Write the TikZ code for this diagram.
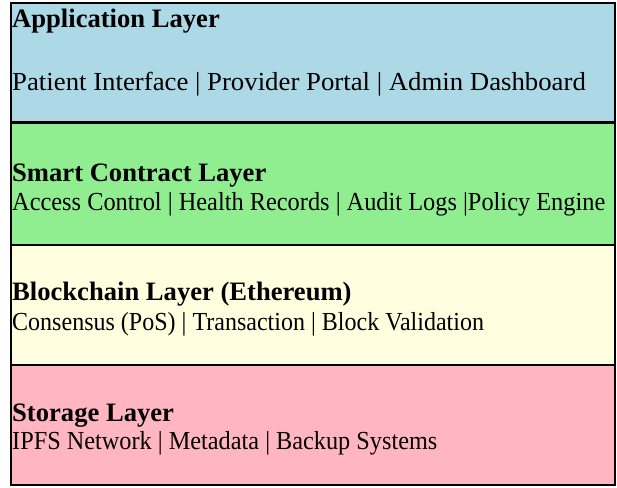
\documentclass[tikz,border=0pt]{standalone}
\usepackage{fontspec}
\setmainfont{Liberation Serif}
\usepackage{graphicx}
\definecolor{appblue}{HTML}{ADD8E6}
\definecolor{scgreen}{HTML}{90EE90}
\definecolor{bcyellow}{HTML}{FFFFE0}
\definecolor{stpink}{HTML}{FFB6C1}
\tikzset{
  layerbox/.style={draw=black, line width=2.5pt, rectangle, inner sep=0pt, outer sep=0pt,
    minimum width=604pt, anchor=north west},
  layertitle/.style={anchor=base west, inner sep=0pt, font=\fontsize{26.6}{30}\selectfont\bfseries},
  layeritems/.style={anchor=base west, inner sep=0pt, font=\fontsize{26}{30}\selectfont},
}
\begin{document}
\begin{tikzpicture}[x=1pt,y=-1pt]
\useasboundingbox (0,0) rectangle (617,487);
\node[layerbox, fill=appblue, minimum height=119.5pt] (app) at (11,3) {};
\node[layerbox, fill=scgreen, minimum height=122.5pt] (sc) at (11,122.5) {};
\node[layerbox, fill=bcyellow, minimum height=120pt] (bc) at (11,245) {};
\node[layerbox, fill=stpink, minimum height=120pt] (st) at (11,365) {};
\draw[line width=2.5pt] (app.north west) rectangle (st.south east);

\node[layertitle] (apptitle) at (12,28) {Application Layer};
\node[layeritems] (appitems) at (12,90) {\scalebox{1.03}[1]{Patient Interface | Provider Portal | Admin Dashboard}};

\node[layertitle] (sctitle) at (12,181) {Smart Contract Layer};
\node[layeritems] (scitems) at (12,210) {\scalebox{0.937}[1]{Access Control | Health Records | Audit Logs |Policy Engine}};

\node[layertitle] (bctitle) at (12,300) {Blockchain Layer (Ethereum)};
\node[layeritems] (bcitems) at (12,330) {\scalebox{0.924}[1]{Consensus (PoS) | Transaction | Block Validation}};

\node[layertitle] (sttitle) at (12,421) {Storage Layer};
\node[layeritems] (stitems) at (12,449) {\scalebox{0.934}[1]{IPFS Network | Metadata | Backup Systems}};
\end{tikzpicture}
\end{document}
